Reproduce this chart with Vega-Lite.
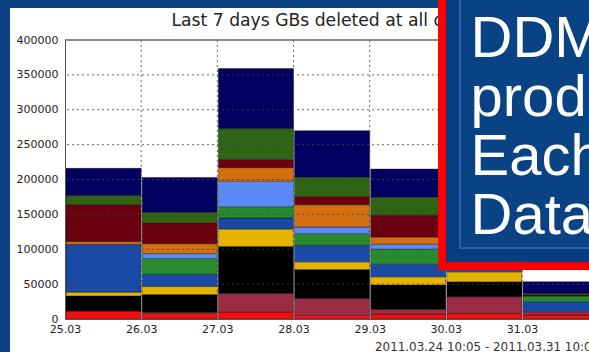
{
  "$schema": "https://vega.github.io/schema/vega-lite/v6.json",
  "width": 524,
  "height": 279,
  "autosize": {"type": "none"},
  "padding": {"left": 65, "top": 40, "right": 0, "bottom": 33},
  "background": "#ffffff",
  "config": {"view": {"stroke": null}, "font": "DejaVu Sans"},
  "datasets": {
    "deleted": [
      {"day": 25, "end": 26, "cloud": "CA", "gb": 11400},
      {"day": 25, "end": 26, "cloud": "DE", "gb": 21600},
      {"day": 25, "end": 26, "cloud": "ES", "gb": 5500},
      {"day": 25, "end": 26, "cloud": "FR", "gb": 68500},
      {"day": 25, "end": 26, "cloud": "NL", "gb": 4000},
      {"day": 25, "end": 26, "cloud": "TW", "gb": 53000},
      {"day": 25, "end": 26, "cloud": "UK", "gb": 13000},
      {"day": 25, "end": 26, "cloud": "US", "gb": 39000},
      {"day": 26, "end": 27, "cloud": "CA", "gb": 8000},
      {"day": 26, "end": 27, "cloud": "CERN", "gb": 1500},
      {"day": 26, "end": 27, "cloud": "DE", "gb": 25500},
      {"day": 26, "end": 27, "cloud": "ES", "gb": 11500},
      {"day": 26, "end": 27, "cloud": "FR", "gb": 17500},
      {"day": 26, "end": 27, "cloud": "IT", "gb": 22700},
      {"day": 26, "end": 27, "cloud": "ND", "gb": 7100},
      {"day": 26, "end": 27, "cloud": "NL", "gb": 14200},
      {"day": 26, "end": 27, "cloud": "TW", "gb": 30000},
      {"day": 26, "end": 27, "cloud": "UK", "gb": 15000},
      {"day": 26, "end": 27, "cloud": "US", "gb": 50000},
      {"day": 27, "end": 28, "cloud": "CA", "gb": 10000},
      {"day": 27, "end": 28, "cloud": "CERN", "gb": 26700},
      {"day": 27, "end": 28, "cloud": "DE", "gb": 67300},
      {"day": 27, "end": 28, "cloud": "ES", "gb": 25000},
      {"day": 27, "end": 28, "cloud": "FR", "gb": 15700},
      {"day": 27, "end": 28, "cloud": "IT", "gb": 16300},
      {"day": 27, "end": 28, "cloud": "ND", "gb": 36600},
      {"day": 27, "end": 28, "cloud": "NL", "gb": 19400},
      {"day": 27, "end": 28, "cloud": "TW", "gb": 11600},
      {"day": 27, "end": 28, "cloud": "UK", "gb": 44400},
      {"day": 27, "end": 28, "cloud": "US", "gb": 86000},
      {"day": 28, "end": 29, "cloud": "CA", "gb": 5200},
      {"day": 28, "end": 29, "cloud": "CERN", "gb": 24300},
      {"day": 28, "end": 29, "cloud": "DE", "gb": 41500},
      {"day": 28, "end": 29, "cloud": "ES", "gb": 10900},
      {"day": 28, "end": 29, "cloud": "FR", "gb": 23800},
      {"day": 28, "end": 29, "cloud": "IT", "gb": 16700},
      {"day": 28, "end": 29, "cloud": "ND", "gb": 9500},
      {"day": 28, "end": 29, "cloud": "NL", "gb": 31900},
      {"day": 28, "end": 29, "cloud": "TW", "gb": 11900},
      {"day": 28, "end": 29, "cloud": "UK", "gb": 27600},
      {"day": 28, "end": 29, "cloud": "US", "gb": 66700},
      {"day": 29, "end": 30, "cloud": "CA", "gb": 7100},
      {"day": 29, "end": 30, "cloud": "CERN", "gb": 6700},
      {"day": 29, "end": 30, "cloud": "DE", "gb": 34800},
      {"day": 29, "end": 30, "cloud": "ES", "gb": 11900},
      {"day": 29, "end": 30, "cloud": "FR", "gb": 18100},
      {"day": 29, "end": 30, "cloud": "IT", "gb": 21400},
      {"day": 29, "end": 30, "cloud": "ND", "gb": 7100},
      {"day": 29, "end": 30, "cloud": "NL", "gb": 10500},
      {"day": 29, "end": 30, "cloud": "TW", "gb": 31000},
      {"day": 29, "end": 30, "cloud": "UK", "gb": 26100},
      {"day": 29, "end": 30, "cloud": "US", "gb": 40300},
      {"day": 30, "end": 31, "cloud": "CA", "gb": 8100},
      {"day": 30, "end": 31, "cloud": "CERN", "gb": 23800},
      {"day": 30, "end": 31, "cloud": "DE", "gb": 21400},
      {"day": 30, "end": 31, "cloud": "ES", "gb": 14300},
      {"day": 30, "end": 31, "cloud": "FR", "gb": 17400},
      {"day": 30, "end": 31, "cloud": "IT", "gb": 13000},
      {"day": 30, "end": 31, "cloud": "ND", "gb": 6000},
      {"day": 30, "end": 31, "cloud": "NL", "gb": 12000},
      {"day": 30, "end": 31, "cloud": "TW", "gb": 34000},
      {"day": 30, "end": 31, "cloud": "UK", "gb": 22000},
      {"day": 30, "end": 31, "cloud": "US", "gb": 43000},
      {"day": 31, "end": 32, "cloud": "CA", "gb": 5700},
      {"day": 31, "end": 32, "cloud": "CERN", "gb": 4800},
      {"day": 31, "end": 32, "cloud": "FR", "gb": 14300},
      {"day": 31, "end": 32, "cloud": "IT", "gb": 8200},
      {"day": 31, "end": 32, "cloud": "TW", "gb": 2000},
      {"day": 31, "end": 32, "cloud": "UK", "gb": 1800},
      {"day": 31, "end": 32, "cloud": "US", "gb": 16700}
    ],
    "hgrid": [{"v": 50000}, {"v": 100000}, {"v": 150000}, {"v": 200000}, {"v": 250000}, {"v": 300000}, {"v": 350000}],
    "vgrid": [{"d": 26}, {"d": 27}, {"d": 28}, {"d": 29}, {"d": 30}, {"d": 31}],
    "one": [{}]
  },
  "layer": [
    {
      "data": {"name": "deleted"},
      "mark": {"type": "bar", "clip": true, "stroke": "#000000", "strokeWidth": 0.7, "strokeOpacity": 0.5},
      "encoding": {
        "x": {"field": "day", "type": "quantitative", "bin": {"binned": true}, "scale": {"domain": [25, 31.879], "nice": false, "zero": false},
          "axis": {"title": null, "values": [25, 26, 27, 28, 29, 30, 31], "labelExpr": "datum.value + '.03'", "labelFontSize": 11, "labelColor": "#222222", "labelPadding": 4, "ticks": false, "grid": false, "domainColor": "#555555", "labelOverlap": false, "labelFlush": false, "zindex": 1}},
        "x2": {"field": "end"},
        "y": {"field": "gb", "type": "quantitative", "stack": "zero", "scale": {"domain": [0, 400000], "nice": false},
          "axis": {"title": null, "values": [0, 50000, 100000, 150000, 200000, 250000, 300000, 350000, 400000], "format": "d", "labelFontSize": 11, "labelColor": "#222222", "labelPadding": 7, "ticks": false, "grid": false, "domainColor": "#555555", "labelOverlap": false, "labelFlush": false, "labelSeparation": 0, "zindex": 1}},
        "color": {"field": "cloud", "type": "nominal", "legend": null,
          "scale": {"domain": ["CA", "CERN", "DE", "ES", "FR", "IT", "ND", "NL", "TW", "UK", "US"],
            "range": ["#f01010", "#9b2c42", "#000000", "#e6b400", "#1a4aa8", "#2a8a30", "#5a8af5", "#d46f10", "#6a0010", "#2e6414", "#000060"]}},
        "order": {"field": "cloud", "sort": "ascending"}
      }
    },
    {
      "data": {"name": "hgrid"},
      "mark": {"type": "rule", "color": "#444444", "strokeWidth": 1, "strokeDash": [2, 3], "opacity": 0.8},
      "encoding": {
        "y": {"field": "v", "type": "quantitative", "scale": {"domain": [0, 400000], "nice": false},
          "axis": {"title": null, "values": [0, 50000, 100000, 150000, 200000, 250000, 300000, 350000, 400000], "format": "d", "labelFontSize": 11, "labelColor": "#222222", "labelPadding": 7, "ticks": false, "grid": false, "domainColor": "#555555", "labelOverlap": false, "labelFlush": false, "labelSeparation": 0, "zindex": 1}}
      }
    },
    {
      "data": {"name": "vgrid"},
      "mark": {"type": "rule", "color": "#444444", "strokeWidth": 1, "strokeDash": [2, 3], "opacity": 0.8},
      "encoding": {
        "x": {"field": "d", "type": "quantitative", "scale": {"domain": [25, 31.879], "nice": false, "zero": false},
          "axis": {"title": null, "values": [25, 26, 27, 28, 29, 30, 31], "labelExpr": "datum.value + '.03'", "labelFontSize": 11, "labelColor": "#222222", "labelPadding": 4, "ticks": false, "grid": false, "domainColor": "#555555", "labelOverlap": false, "labelFlush": false, "zindex": 1}}
      }
    },
    {
      "data": {"name": "one"},
      "mark": {"type": "rule", "color": "#666666", "strokeWidth": 1.5},
      "encoding": {
        "y": {"datum": 400000, "type": "quantitative", "scale": {"domain": [0, 400000], "nice": false},
          "axis": {"title": null, "values": [0, 50000, 100000, 150000, 200000, 250000, 300000, 350000, 400000], "format": "d", "labelFontSize": 11, "labelColor": "#222222", "labelPadding": 7, "ticks": false, "grid": false, "domainColor": "#555555", "labelOverlap": false, "labelFlush": false, "labelSeparation": 0, "zindex": 1}}
      }
    },
    {
      "data": {"name": "one"},
      "mark": {"type": "rect", "clip": false, "fill": "#0a4282"},
      "encoding": {
        "x": {"datum": 24.0, "type": "quantitative", "scale": {"domain": [25, 31.879], "nice": false, "zero": false},
          "axis": {"title": null, "values": [25, 26, 27, 28, 29, 30, 31], "labelExpr": "datum.value + '.03'", "labelFontSize": 11, "labelColor": "#222222", "labelPadding": 4, "ticks": false, "grid": false, "domainColor": "#555555", "labelOverlap": false, "labelFlush": false, "zindex": 1}},
        "x2": {"datum": 24.278},
        "y": {"datum": -80000, "type": "quantitative", "scale": {"domain": [0, 400000], "nice": false},
          "axis": {"title": null, "values": [0, 50000, 100000, 150000, 200000, 250000, 300000, 350000, 400000], "format": "d", "labelFontSize": 11, "labelColor": "#222222", "labelPadding": 7, "ticks": false, "grid": false, "domainColor": "#555555", "labelOverlap": false, "labelFlush": false, "labelSeparation": 0, "zindex": 1}},
        "y2": {"datum": 520000}
      }
    },
    {
      "data": {"name": "one"},
      "mark": {"type": "rect", "clip": false, "fill": "#0a4282"},
      "encoding": {
        "x": {"datum": 24.0, "type": "quantitative", "scale": {"domain": [25, 31.879], "nice": false, "zero": false},
          "axis": {"title": null, "values": [25, 26, 27, 28, 29, 30, 31], "labelExpr": "datum.value + '.03'", "labelFontSize": 11, "labelColor": "#222222", "labelPadding": 4, "ticks": false, "grid": false, "domainColor": "#555555", "labelOverlap": false, "labelFlush": false, "zindex": 1}},
        "x2": {"datum": 34},
        "y": {"datum": 445878, "type": "quantitative", "scale": {"domain": [0, 400000], "nice": false},
          "axis": {"title": null, "values": [0, 50000, 100000, 150000, 200000, 250000, 300000, 350000, 400000], "format": "d", "labelFontSize": 11, "labelColor": "#222222", "labelPadding": 7, "ticks": false, "grid": false, "domainColor": "#555555", "labelOverlap": false, "labelFlush": false, "labelSeparation": 0, "zindex": 1}},
        "y2": {"datum": 520000}
      }
    },
    {
      "data": {"name": "one"},
      "mark": {"type": "text", "clip": false, "align": "left", "baseline": "alphabetic", "font": "DejaVu Sans", "fontSize": 17.2, "color": "#222222", "text": "Last 7 days GBs deleted at all data centers"},
      "encoding": {
        "x": {"datum": 26.398, "type": "quantitative", "scale": {"domain": [25, 31.879], "nice": false, "zero": false},
          "axis": {"title": null, "values": [25, 26, 27, 28, 29, 30, 31], "labelExpr": "datum.value + '.03'", "labelFontSize": 11, "labelColor": "#222222", "labelPadding": 4, "ticks": false, "grid": false, "domainColor": "#555555", "labelOverlap": false, "labelFlush": false, "zindex": 1}},
        "y": {"datum": 419400, "type": "quantitative", "scale": {"domain": [0, 400000], "nice": false},
          "axis": {"title": null, "values": [0, 50000, 100000, 150000, 200000, 250000, 300000, 350000, 400000], "format": "d", "labelFontSize": 11, "labelColor": "#222222", "labelPadding": 7, "ticks": false, "grid": false, "domainColor": "#555555", "labelOverlap": false, "labelFlush": false, "labelSeparation": 0, "zindex": 1}}
      }
    },
    {
      "data": {"name": "one"},
      "mark": {"type": "text", "clip": false, "align": "left", "baseline": "alphabetic", "font": "DejaVu Sans", "fontSize": 11.9, "color": "#333333", "text": "2011.03.24 10:05 - 2011.03.31 10:05"},
      "encoding": {
        "x": {"datum": 29.07, "type": "quantitative", "scale": {"domain": [25, 31.879], "nice": false, "zero": false},
          "axis": {"title": null, "values": [25, 26, 27, 28, 29, 30, 31], "labelExpr": "datum.value + '.03'", "labelFontSize": 11, "labelColor": "#222222", "labelPadding": 4, "ticks": false, "grid": false, "domainColor": "#555555", "labelOverlap": false, "labelFlush": false, "zindex": 1}},
        "y": {"datum": -45878, "type": "quantitative", "scale": {"domain": [0, 400000], "nice": false},
          "axis": {"title": null, "values": [0, 50000, 100000, 150000, 200000, 250000, 300000, 350000, 400000], "format": "d", "labelFontSize": 11, "labelColor": "#222222", "labelPadding": 7, "ticks": false, "grid": false, "domainColor": "#555555", "labelOverlap": false, "labelFlush": false, "labelSeparation": 0, "zindex": 1}}
      }
    },
    {
      "data": {"name": "one"},
      "mark": {"type": "rect", "clip": false, "fill": "#083c7d", "stroke": "#ff0000", "strokeWidth": 8},
      "encoding": {
        "x": {"datum": 29.9495, "type": "quantitative", "scale": {"domain": [25, 31.879], "nice": false, "zero": false},
          "axis": {"title": null, "values": [25, 26, 27, 28, 29, 30, 31], "labelExpr": "datum.value + '.03'", "labelFontSize": 11, "labelColor": "#222222", "labelPadding": 4, "ticks": false, "grid": false, "domainColor": "#555555", "labelOverlap": false, "labelFlush": false, "zindex": 1}},
        "x2": {"datum": 34},
        "y": {"datum": 76000, "type": "quantitative", "scale": {"domain": [0, 400000], "nice": false},
          "axis": {"title": null, "values": [0, 50000, 100000, 150000, 200000, 250000, 300000, 350000, 400000], "format": "d", "labelFontSize": 11, "labelColor": "#222222", "labelPadding": 7, "ticks": false, "grid": false, "domainColor": "#555555", "labelOverlap": false, "labelFlush": false, "labelSeparation": 0, "zindex": 1}},
        "y2": {"datum": 520000}
      }
    },
    {
      "data": {"name": "one"},
      "mark": {"type": "rect", "clip": false, "fill": "#0a4384", "stroke": "#2a62a8", "strokeWidth": 2},
      "encoding": {
        "x": {"datum": 30.186, "type": "quantitative", "scale": {"domain": [25, 31.879], "nice": false, "zero": false},
          "axis": {"title": null, "values": [25, 26, 27, 28, 29, 30, 31], "labelExpr": "datum.value + '.03'", "labelFontSize": 11, "labelColor": "#222222", "labelPadding": 4, "ticks": false, "grid": false, "domainColor": "#555555", "labelOverlap": false, "labelFlush": false, "zindex": 1}},
        "x2": {"datum": 34},
        "y": {"datum": 101800, "type": "quantitative", "scale": {"domain": [0, 400000], "nice": false},
          "axis": {"title": null, "values": [0, 50000, 100000, 150000, 200000, 250000, 300000, 350000, 400000], "format": "d", "labelFontSize": 11, "labelColor": "#222222", "labelPadding": 7, "ticks": false, "grid": false, "domainColor": "#555555", "labelOverlap": false, "labelFlush": false, "labelSeparation": 0, "zindex": 1}},
        "y2": {"datum": 520000}
      }
    },
    {
      "data": {"name": "one"},
      "mark": {"type": "text", "clip": false, "align": "left", "baseline": "alphabetic", "font": "Liberation Sans", "fontSize": 58, "lineHeight": 59, "color": "#ffffff", "text": ["DDM", "production", "Each", "Data"]},
      "encoding": {
        "x": {"datum": 30.324, "type": "quantitative", "scale": {"domain": [25, 31.879], "nice": false, "zero": false},
          "axis": {"title": null, "values": [25, 26, 27, 28, 29, 30, 31], "labelExpr": "datum.value + '.03'", "labelFontSize": 11, "labelColor": "#222222", "labelPadding": 4, "ticks": false, "grid": false, "domainColor": "#555555", "labelOverlap": false, "labelFlush": false, "zindex": 1}},
        "y": {"datum": 375630, "type": "quantitative", "scale": {"domain": [0, 400000], "nice": false},
          "axis": {"title": null, "values": [0, 50000, 100000, 150000, 200000, 250000, 300000, 350000, 400000], "format": "d", "labelFontSize": 11, "labelColor": "#222222", "labelPadding": 7, "ticks": false, "grid": false, "domainColor": "#555555", "labelOverlap": false, "labelFlush": false, "labelSeparation": 0, "zindex": 1}}
      }
    }
  ]
}
